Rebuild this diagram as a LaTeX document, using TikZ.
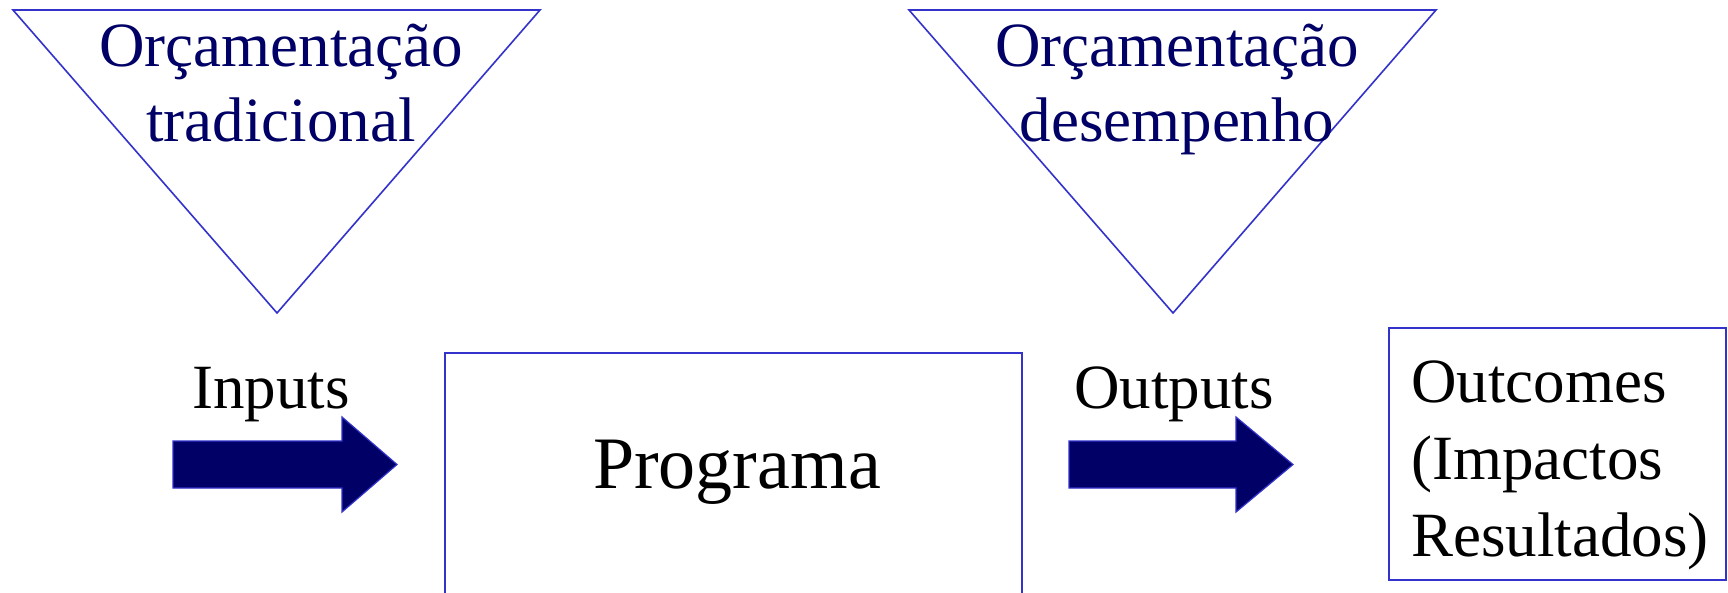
\documentclass[tikz,border=0pt]{standalone}
\usepackage{fontspec}
\setmainfont{Liberation Serif}
\definecolor{navy}{HTML}{000066}
\definecolor{edgeblue}{HTML}{3333CC}
\begin{document}
\begin{tikzpicture}[x=1pt,y=-1pt,
  outline/.style={draw=edgeblue,line width=1.6pt},
  word/.style={font=\fontsize{63}{77}\selectfont,inner sep=0pt,anchor=base},
  bigword/.style={font=\fontsize{74}{88}\selectfont,inner sep=0pt,anchor=base},
  blockarrow/.style={fill=navy,draw=edgeblue,line width=1.2pt,line join=miter}]
\useasboundingbox (0,0) rectangle (1728,592);
\fill[white] (0,0) rectangle (1728,592);

% left funnel: traditional budgeting
\coordinate (tradL) at (13,10);
\coordinate (tradR) at (540,10);
\coordinate (tradB) at (277,313);
\draw[outline] (tradL) -- (tradR) -- (tradB) -- cycle;
\node[word,text=navy] (tradA) at (281,66) {Orçamentação};
\node[word,text=navy] (tradT) at (281,141) {tradicional};

% right funnel: performance budgeting
\coordinate (perfL) at (909,10);
\coordinate (perfR) at (1436,10);
\coordinate (perfB) at (1173,313);
\draw[outline] (perfL) -- (perfR) -- (perfB) -- cycle;
\node[word,text=navy] (perfA) at (1177,66) {Orçamentação};
\node[word,text=navy] (perfT) at (1177,141) {desempenho};

% inputs arrow
\node[word] (inputs) at (271,408) {Inputs};
\draw[blockarrow] (173,441) -- (342,441) -- (342,417) -- (397,464.5)
  -- (342,512) -- (342,488) -- (173,488) -- cycle;

% programme box (runs off the bottom edge)
\draw[outline] (445,620) -- (445,353) -- (1022,353) -- (1022,620);
\node[bigword] (prog) at (737,488) {Programa};

% outputs arrow
\node[word] (outputs) at (1174,408) {Outputs};
\draw[blockarrow] (1069,441) -- (1236,441) -- (1236,417) -- (1293,464.5)
  -- (1236,512) -- (1236,488) -- (1069,488) -- cycle;

% outcomes box
\draw[outline] (1389,328) rectangle (1726,580);
\node[word,anchor=base west] (outc1) at (1411,402) {Outcomes};
\node[word,anchor=base west] (outc2) at (1411,479) {(Impactos};
\node[word,anchor=base west] (outc3) at (1411,556) {Resultados)};
\end{tikzpicture}
\end{document}
